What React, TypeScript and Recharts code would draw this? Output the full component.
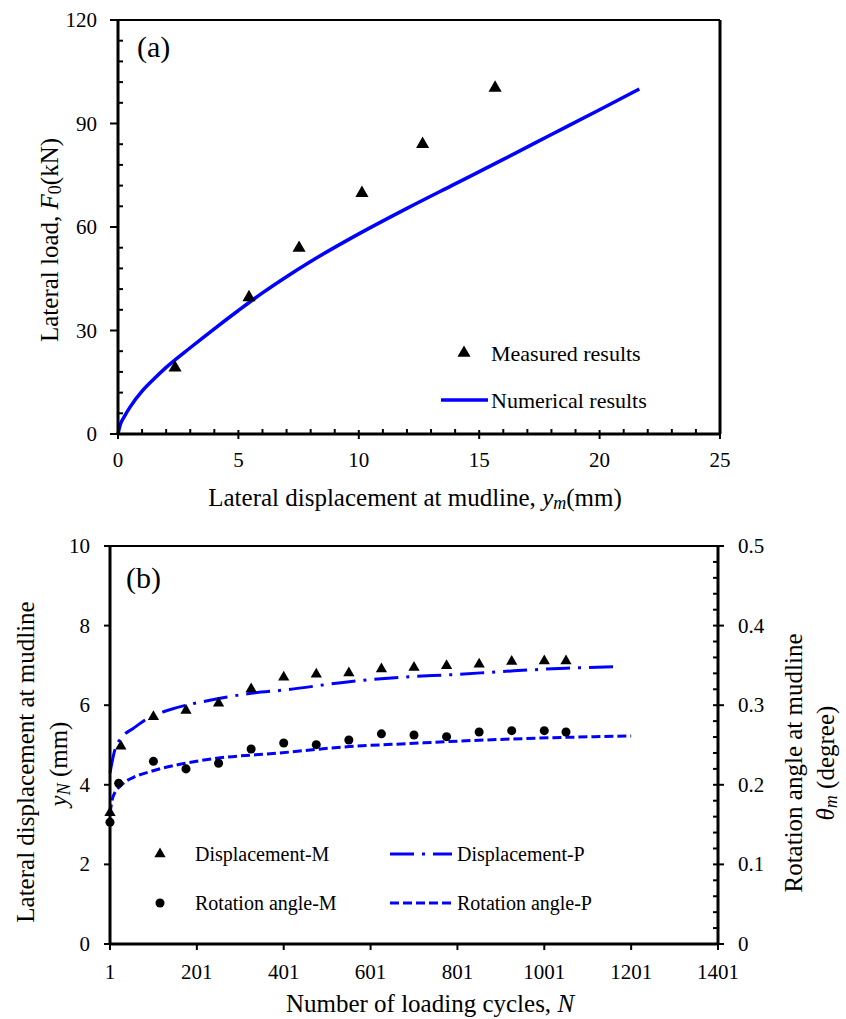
import React from "react";
import {
  ComposedChart,
  Line,
  Scatter,
  XAxis,
  YAxis,
  ZAxis,
  ReferenceLine,
  Label,
  Legend,
  Symbols,
} from "recharts";

const FONT = '"Liberation Serif", "Times New Roman", Times, serif';
const BLUE = "#0000ff";

// ---------- (a) lateral load vs displacement ----------
const measuredDisp = [2.37, 5.44, 7.52, 10.13, 12.65, 15.66];
const measuredLoad = [19.2, 39.6, 53.9, 69.8, 84.0, 100.3];
const numericalDisp = [0, 0.1, 0.25, 0.5, 1, 1.5, 2, 3, 4, 5, 6, 7, 8, 10, 12, 14, 16, 18, 20, 21.65];
const numericalLoad = [0, 2.8, 4.9, 7.8, 12.4, 16.0, 19.3, 25.0, 30.5, 35.8, 40.9, 45.6, 50.0, 58.0, 65.4, 72.5, 79.6, 86.8, 94, 100];

const dispTicksA = [0, 1, 2, 3, 4, 5, 6, 7, 8, 9, 10, 11, 12, 13, 14, 15, 16, 17, 18, 19, 20, 21, 22, 23, 24, 25];
const dispMajorA = [0, 5, 10, 15, 20, 25];
const loadTicksA = [0, 6, 12, 18, 24, 30, 36, 42, 48, 54, 60, 66, 72, 78, 84, 90, 96, 102, 108, 114, 120];
const loadMajorA = [0, 30, 60, 90, 120];

// ---------- (b) cyclic response ----------
const cyclesDispM = [1, 26, 101, 176, 251, 326, 401, 476, 551, 626, 701, 776, 851, 926, 1001, 1051];
const dispM = [3.3, 4.97, 5.71, 5.87, 6.05, 6.41, 6.7, 6.78, 6.81, 6.91, 6.95, 6.99, 7.03, 7.1, 7.11, 7.11];
const cyclesRotM = [1, 21, 101, 176, 251, 326, 401, 476, 551, 626, 701, 776, 851, 926, 1001, 1051];
const rotM = [0.153, 0.202, 0.2295, 0.22, 0.227, 0.245, 0.2525, 0.2504, 0.2563, 0.264, 0.2626, 0.2605, 0.2663, 0.268, 0.268, 0.2663];
const cyclesDispP = [1, 12, 30, 55, 93, 131, 176, 216, 326, 401, 552, 701, 776, 926, 1051, 1176];
const dispP = [4.3, 4.87, 5.21, 5.42, 5.7, 5.86, 6.0, 6.09, 6.3, 6.38, 6.59, 6.72, 6.76, 6.86, 6.93, 6.97];
const cyclesRotP = [1, 8, 32, 55, 93, 162, 246, 384, 552, 701, 776, 926, 1051, 1201];
const rotP = [0.164, 0.185, 0.202, 0.2094, 0.2165, 0.2258, 0.2333, 0.2396, 0.248, 0.2521, 0.2542, 0.2575, 0.2596, 0.2613];

const cycleTicksB = [1, 201, 401, 601, 801, 1001, 1201, 1401];
const dispTicksB = [0, 2, 4, 6, 8, 10];
const rotTicksB = [
  0, 0.02, 0.04, 0.06, 0.08, 0.1, 0.12, 0.14, 0.16, 0.18, 0.2, 0.22, 0.24, 0.26, 0.28, 0.3,
  0.32, 0.34, 0.36, 0.38, 0.4, 0.42, 0.44, 0.46, 0.48, 0.5,
];
const rotMajorB = [0, 0.1, 0.2, 0.3, 0.4, 0.5];

const pairs = (xs: number[], ys: number[]) => xs.map((x, i) => ({ x, y: ys[i] }));

const measuredData = pairs(measuredDisp, measuredLoad);
const numericalData = pairs(numericalDisp, numericalLoad);
const dispMData = pairs(cyclesDispM, dispM);
const rotMData = pairs(cyclesRotM, rotM);
const dispPData = pairs(cyclesDispP, dispP);
const rotPData = pairs(cyclesRotP, rotP);

const DASH_DOT = "24 8 3 8";
const DASHED = "9 4";

// ticks: major outward with label, minor short and inward
type TickSpec = {
  side: "left" | "right" | "bottom";
  major: number[];
  out: number;
  inn: number;
  minor: number;
  gap: number;
  fmt?: (v: number) => string;
};

const isIn = (list: number[], v: number) => list.some((m) => Math.abs(m - v) < 1e-6);
const serif = { fontFamily: FONT };

const makeTick = (spec: TickSpec) => (props: any) => {
  const { x, y, payload } = props;
  const v = payload.value as number;
  const major = isIn(spec.major, v);
  const label = spec.fmt ? spec.fmt(v) : String(v);
  const ln = { stroke: "#000", strokeWidth: 2 };
  if (spec.side === "bottom") {
    return (
      <g>
        {major ? (
          <line x1={x} x2={x} y1={y - spec.inn} y2={y + spec.out} {...ln} />
        ) : (
          <line x1={x} x2={x} y1={y} y2={y - spec.minor} {...ln} />
        )}
        {major && (
          <text x={x} y={y + spec.gap} textAnchor="middle" dominantBaseline="central" fontSize={21} fill="#000" style={serif}>
            {label}
          </text>
        )}
      </g>
    );
  }
  const dir = spec.side === "left" ? -1 : 1;
  return (
    <g>
      {major ? (
        <line x1={x - dir * spec.inn} x2={x + dir * spec.out} y1={y} y2={y} {...ln} />
      ) : (
        <line x1={x} x2={x - dir * spec.minor} y1={y} y2={y} {...ln} />
      )}
      {major && (
        <text
          x={x + dir * spec.gap}
          y={y}
          textAnchor={spec.side === "left" ? "end" : "start"}
          dominantBaseline="central"
          fontSize={21}
          fill="#000"
          style={serif}
        >
          {label}
        </text>
      )}
    </g>
  );
};

const axisLine = { stroke: "#000", strokeWidth: 3 };

const hTitle = (cx: number, cy: number, body: React.ReactNode) => (
  <text x={cx} y={cy} textAnchor="middle" dominantBaseline="central" fontSize={25} fill="#000" style={serif}>
    {body}
  </text>
);

const vTitle = (cx: number, cy: number, body: React.ReactNode) => (
  <text
    x={cx}
    y={cy}
    transform={`rotate(-90 ${cx} ${cy})`}
    textAnchor="middle"
    dominantBaseline="central"
    fontSize={25}
    fill="#000"
    style={serif}
  >
    {body}
  </text>
);

const legendItem = (x: number, y: number, size: number, text: string) => (
  <text x={x} y={y} fontSize={size} dominantBaseline="central" fill="#000" style={serif}>
    {text}
  </text>
);

const OverlayA = () => (
  <svg width={846} height={520} style={{ position: "absolute", left: 0, top: 0, pointerEvents: "none" }}>
    <text x={137} y={57} fontSize={30} fill="#000" style={serif}>(a)</text>
    <Symbols cx={464} cy={353} type="triangle" size={75} fill="#000" />
    {legendItem(491, 353, 22, "Measured results")}
    <line x1={441} x2={488} y1={400} y2={400} stroke={BLUE} strokeWidth={3.5} />
    {legendItem(491, 400, 22, "Numerical results")}
  </svg>
);

const OverlayB = () => (
  <svg width={846} height={499} style={{ position: "absolute", left: 0, top: 0, pointerEvents: "none" }}>
    <text x={126} y={68} fontSize={30} fill="#000" style={serif}>(b)</text>
    <Symbols cx={160} cy={334} type="triangle" size={55} fill="#000" />
    {legendItem(195, 334, 20, "Displacement-M")}
    <Symbols cx={160} cy={383} type="circle" size={64} fill="#000" />
    {legendItem(195, 383, 20, "Rotation angle-M")}
    <line x1={390} x2={452} y1={334} y2={334} stroke={BLUE} strokeWidth={3} strokeDasharray={DASH_DOT} />
    {legendItem(457, 334, 20, "Displacement-P")}
    <line x1={390} x2={452} y1={383} y2={383} stroke={BLUE} strokeWidth={3} strokeDasharray={DASHED} />
    {legendItem(457, 383, 20, "Rotation angle-P")}
  </svg>
);

const ChartA = () => (
  <ComposedChart width={846} height={520} margin={{ top: 20, right: 126, bottom: 56, left: 0 }}>
    <ZAxis range={[75, 75]} />
    <XAxis
      type="number"
      dataKey="x"
      domain={[0, 25]}
      ticks={dispTicksA}
      interval={0}
      height={30}
      axisLine={axisLine}
      tickLine={false}
      tickSize={0}
      tickMargin={0}
      tick={makeTick({ side: "bottom", major: dispMajorA, out: 5, inn: 4, minor: 5, gap: 26 })}
    >
      <Label
        content={() =>
          hTitle(
            415,
            497,
            <>
              Lateral displacement at mudline, <tspan fontStyle="italic">y</tspan>
              <tspan dy={6} fontSize={18} fontStyle="italic">m</tspan>
              <tspan dy={-6}>(mm)</tspan>
            </>
          )
        }
      />
    </XAxis>
    <YAxis
      type="number"
      dataKey="y"
      domain={[0, 120]}
      ticks={loadTicksA}
      interval={0}
      width={118}
      axisLine={axisLine}
      tickLine={false}
      tickSize={0}
      tickMargin={0}
      tick={makeTick({ side: "left", major: loadMajorA, out: 8, inn: 0, minor: 5, gap: 21 })}
    >
      <Label
        content={() =>
          vTitle(
            49,
            240,
            <>
              Lateral load, <tspan fontStyle="italic">F</tspan>
              <tspan dy={6} fontSize={18}>0</tspan>
              <tspan dy={-6}>(kN)</tspan>
            </>
          )
        }
      />
    </YAxis>
    <ReferenceLine y={120} stroke="#000" strokeWidth={2} />
    <ReferenceLine x={25} stroke="#000" strokeWidth={3} />
    <Line
      data={numericalData}
      dataKey="y"
      type="monotone"
      stroke={BLUE}
      strokeWidth={3.5}
      dot={false}
      activeDot={false}
      isAnimationActive={false}
    />
    <Scatter data={measuredData} dataKey="y" shape="triangle" fill="#000" isAnimationActive={false} />
    <Legend
      layout="vertical"
      align="center"
      verticalAlign="middle"
      content={() => <OverlayA />}
      wrapperStyle={{ left: 0, top: 0, width: 846, height: 520, pointerEvents: "none" }}
    />
  </ComposedChart>
);

const ChartB = () => (
  <ComposedChart width={846} height={499} margin={{ top: 26, right: 0, bottom: 45, left: 0 }}>
    <ZAxis zAxisId="tri" range={[55, 55]} />
    <ZAxis zAxisId="cir" range={[64, 64]} />
    <XAxis
      type="number"
      dataKey="x"
      domain={[1, 1401]}
      ticks={cycleTicksB}
      interval={0}
      height={30}
      axisLine={axisLine}
      tickLine={false}
      tickSize={0}
      tickMargin={0}
      tick={makeTick({ side: "bottom", major: cycleTicksB, out: 6, inn: 0, minor: 0, gap: 28 })}
    >
      <Label
        content={() => hTitle(430, 483, <>Number of loading cycles, <tspan fontStyle="italic">N</tspan></>)}
      />
    </XAxis>
    <YAxis
      yAxisId="left"
      type="number"
      dataKey="y"
      domain={[0, 10]}
      ticks={dispTicksB}
      interval={0}
      width={110}
      axisLine={axisLine}
      tickLine={false}
      tickSize={0}
      tickMargin={0}
      tick={makeTick({ side: "left", major: dispTicksB, out: 6, inn: 0, minor: 0, gap: 20 })}
    >
      <Label
        content={() => (
          <g>
            {vTitle(25, 242, "Lateral displacement at mudline")}
            {vTitle(
              58,
              244,
              <>
                <tspan fontStyle="italic">y</tspan>
                <tspan dy={6} fontSize={18} fontStyle="italic">N</tspan>
                <tspan dy={-6}> (mm)</tspan>
              </>
            )}
          </g>
        )}
      />
    </YAxis>
    <YAxis
      yAxisId="right"
      orientation="right"
      type="number"
      dataKey="y"
      domain={[0, 0.5]}
      ticks={rotTicksB}
      interval={0}
      width={128}
      axisLine={axisLine}
      tickLine={false}
      tickSize={0}
      tickMargin={0}
      tick={makeTick({
        side: "right",
        major: rotMajorB,
        out: 6,
        inn: 5,
        minor: 5,
        gap: 20,
        fmt: (v) => (v === 0 ? "0" : v.toFixed(1)),
      })}
    >
      <Label
        content={() => (
          <g>
            {vTitle(793, 243, "Rotation angle at mudline")}
            {vTitle(
              825,
              243,
              <>
                <tspan fontStyle="italic">θ</tspan>
                <tspan dy={6} fontSize={18} fontStyle="italic">m</tspan>
                <tspan dy={-6}> (degree)</tspan>
              </>
            )}
          </g>
        )}
      />
    </YAxis>
    <ReferenceLine yAxisId="left" y={10} stroke="#000" strokeWidth={2} />
    <Line
      yAxisId="left"
      data={dispPData}
      dataKey="y"
      type="monotone"
      stroke={BLUE}
      strokeWidth={3}
      strokeDasharray={DASH_DOT}
      dot={false}
      activeDot={false}
      isAnimationActive={false}
    />
    <Line
      yAxisId="right"
      data={rotPData}
      dataKey="y"
      type="monotone"
      stroke={BLUE}
      strokeWidth={3}
      strokeDasharray={DASHED}
      dot={false}
      activeDot={false}
      isAnimationActive={false}
    />
    <Scatter
      yAxisId="left"
      zAxisId="tri"
      data={dispMData}
      dataKey="y"
      shape="triangle"
      fill="#000"
      isAnimationActive={false}
    />
    <Scatter
      yAxisId="right"
      zAxisId="cir"
      data={rotMData}
      dataKey="y"
      shape="circle"
      fill="#000"
      isAnimationActive={false}
    />
    <Legend
      layout="vertical"
      align="center"
      verticalAlign="middle"
      content={() => <OverlayB />}
      wrapperStyle={{ left: 0, top: 0, width: 846, height: 499, pointerEvents: "none" }}
    />
  </ComposedChart>
);

export default function App() {
  return (
    <div
      style={{
        position: "absolute",
        left: 0,
        top: 0,
        width: 846,
        height: 1019,
        background: "#fff",
        fontFamily: FONT,
      }}
    >
      <ChartA />
      <ChartB />
    </div>
  );
}
